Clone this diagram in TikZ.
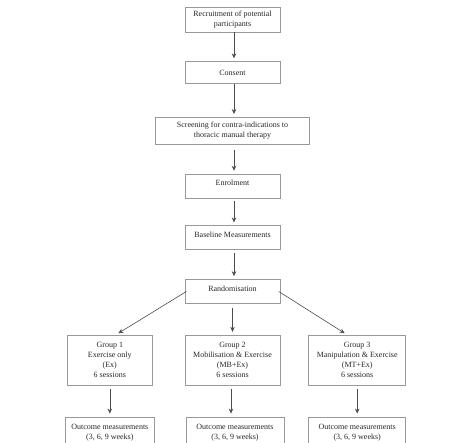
\documentclass[tikz,border=0pt]{standalone}
\usepackage{fontspec}
\setmainfont{Liberation Serif}
\usetikzlibrary{positioning, arrows.meta}

\begin{document}
\begin{tikzpicture}[
        node distance=29pt and 32pt,
        box/.style={rectangle, draw=gray!80, line width=0.7pt, minimum width=95pt, minimum height=24pt, inner sep=2pt, align=center, font=\fontsize{8}{10}\selectfont, text=black!85},
        group/.style={box, minimum height=50pt},
        outcome/.style={box, minimum height=37pt, text depth=8pt},
        flow/.style={-{Stealth[length=5pt, width=4.5pt]}, gray!60!black, line width=0.6pt, shorten >=3pt}
    ]
    \useasboundingbox (0pt,0pt) rectangle (476pt,-443pt);

    % ETAPAS PRINCIPALES
    \node[box, minimum height=25pt] (recruit) at (232.5pt,-19.5pt) {Recruitment of potential\\participants};
    \node[box, minimum height=22pt, below=29pt of recruit] (consent) {Consent};
    \node[box, minimum width=154pt, minimum height=27pt, below=33pt of consent] (screen) {Screening for contra-indications to\\thoracic manual therapy};
    \node[box, below=29pt of screen, text depth=6pt] (enrol) {Enrolment};
    \node[box, below=27pt of enrol, text depth=6pt] (baseline) {Baseline Measurements};
    \node[box, below=29pt of baseline, text depth=6pt] (random) {Randomisation};

    % GRUPOS
    \node[group, below=31pt of random] (grp2) {Group 2\\Mobilisation \& Exercise\\(MB+Ex)\\6 sessions};
    \node[group, minimum width=85pt, left=32pt of grp2] (grp1) {Group 1\\Exercise only\\(Ex)\\6 sessions};
    \node[group, minimum width=97pt, right=28pt of grp2] (grp3) {Group 3\\Manipulation \& Exercise\\(MT+Ex)\\6 sessions};

    % MEDICIONES
    \node[outcome, minimum width=89pt, below=31pt of grp1] (out1) {Outcome measurements\\(3, 6, 9 weeks)};
    \node[outcome, minimum width=98pt, below=31pt of grp2, xshift=2.5pt] (out2) {Outcome measurements\\(3, 6, 9 weeks)};
    \node[outcome, minimum width=97pt, below=31pt of grp3] (out3) {Outcome measurements\\(3, 6, 9 weeks)};

    % Flechas
    \draw[flow] ([xshift=1.5pt]recruit.south) -- ([xshift=1.5pt]consent.north);
    \draw[flow] ([xshift=1.5pt]consent.south) -- ([xshift=1.5pt]screen.north);
    \draw[flow, shorten <=5pt] ([xshift=1.5pt]screen.south) -- ([xshift=1.5pt]enrol.north);
    \draw[flow, shorten <=3pt] ([xshift=1.5pt]enrol.south) -- ([xshift=1.5pt]baseline.north);
    \draw[flow, shorten <=3pt] ([xshift=1.5pt]baseline.south) -- ([xshift=1.5pt]random.north);
    \draw[flow, shorten <=-2pt] ([yshift=-1pt]random.west) -- ([xshift=6pt]grp1.north);
    \draw[flow, shorten <=4pt] (random.south) -- (grp2.north);
    \draw[flow, shorten <=-2pt] ([yshift=-1pt]random.east) -- ([xshift=-10pt]grp3.north);
    \draw[flow, shorten <=3pt] (grp1.south) -- (out1.north);
    \draw[flow, shorten <=3pt] ([xshift=-1.5pt]grp2.south) -- ([xshift=-4pt]out2.north);
    \draw[flow, shorten <=3pt] (grp3.south) -- (out3.north);
\end{tikzpicture}
\end{document}
